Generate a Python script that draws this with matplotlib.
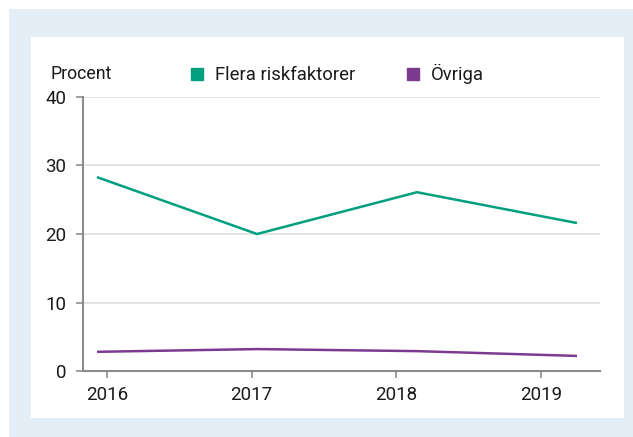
import matplotlib
matplotlib.use('Agg')
from matplotlib import pyplot as plt
from matplotlib.patches import Rectangle
from matplotlib.lines import Line2D
import numpy as np

plt.rcParams['font.family'] = ['Roboto', 'DejaVu Sans']

years = ['2016', '2017', '2018', '2019']
flera = [28.3, 20.0, 26.1, 21.6]
ovriga = [2.8, 3.2, 2.9, 2.2]
yticks = [0, 10, 20, 30, 40]

GREEN = '#00a07f'
PURPLE = '#7d3b8f'
BLUE_BG = '#e3eef6'
TXT = '#1a1a1a'

W, H = 633, 437
fig = plt.figure(figsize=(W / 100, H / 100), dpi=100)
fig.patch.set_facecolor('white')

# outer blue frame and white panel (pixel coords from top-left)
def px_rect(x0, y0, x1, y1, color):
    fig.patches.append(Rectangle((x0 / W, 1 - y1 / H), (x1 - x0) / W, (y1 - y0) / H,
                                 transform=fig.transFigure, facecolor=color,
                                 edgecolor='none', zorder=-10))

px_rect(9, 9, W, H, BLUE_BG)
px_rect(31, 37, 624, 418, 'white')

ax = fig.add_axes([83 / W, 1 - 371 / H, (600 - 83) / W, (371 - 97) / H])
ax.set_facecolor('none')

x = np.arange(len(years))
ax.plot(x, flera, color=GREEN, lw=1.8, solid_capstyle='butt')
ax.plot(x, ovriga, color=PURPLE, lw=1.8, solid_capstyle='butt')

# category ticks sit a bit inside the line end points
tick_pos = 0.0625 + 0.904 * x
ax.set_xticks(tick_pos)
ax.set_xticklabels(years)
ax.set_xlim(-0.0875, 3.144)

ax.set_ylim(0, 40)
ax.set_yticks(yticks)
ax.yaxis.grid(True, color='#dddddd', lw=1.2)
ax.set_axisbelow(True)

for s in ['top', 'right']:
    ax.spines[s].set_visible(False)
for s in ['left', 'bottom']:
    ax.spines[s].set_color('#8c8c8c')
    ax.spines[s].set_linewidth(1.5)

ax.tick_params(axis='y', length=5, width=1.2, color='#8c8c8c', labelsize=13.5,
               labelcolor=TXT, pad=7)
ax.tick_params(axis='x', length=5, width=1.2, color='#8c8c8c', labelsize=13.5,
               labelcolor=TXT, pad=6)

fig.text(50 / W, 1 - 74 / H, 'Procent', fontsize=12.8, va='center', ha='left', color=TXT)

handles = [Line2D([], [], marker='s', ls='none', color=GREEN, markersize=8),
           Line2D([], [], marker='s', ls='none', color=PURPLE, markersize=8)]
fig.legend(handles, ['Flera riskfaktorer', 'Övriga'], loc='center left',
           bbox_to_anchor=(190 / W, 1 - 74 / H), ncol=2, frameon=False,
           fontsize=13.3, handlelength=0.8, handletextpad=0.55, columnspacing=2.75,
           borderpad=0, borderaxespad=0, labelcolor=TXT)

fig.savefig('out.png', dpi=100)
